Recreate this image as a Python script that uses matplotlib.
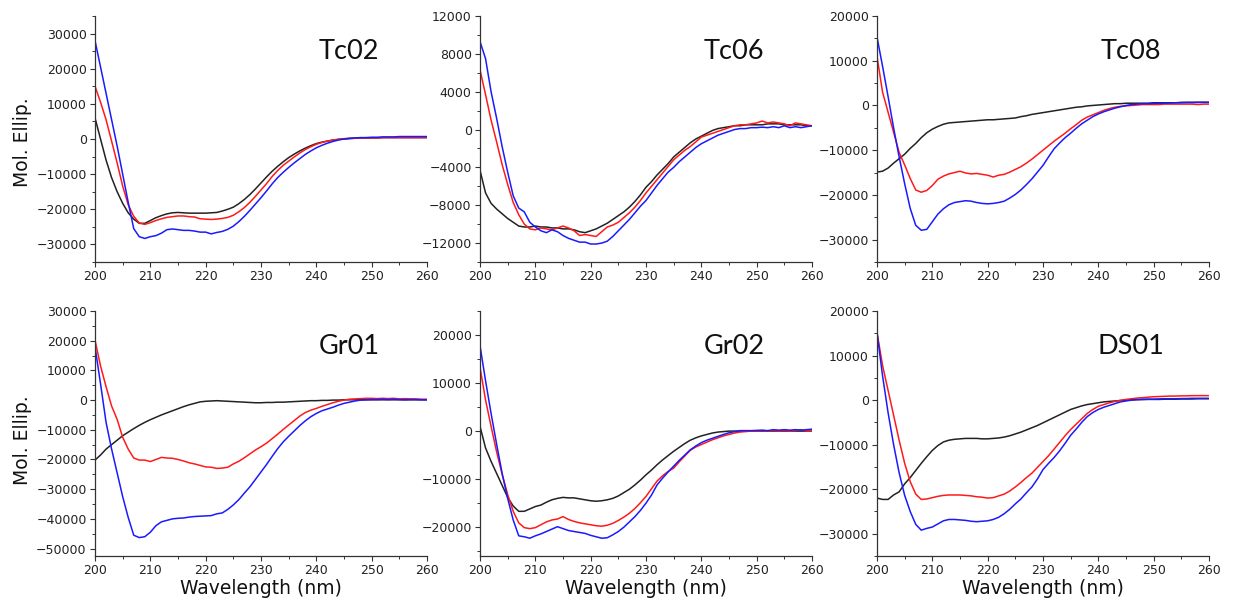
import numpy as np
import matplotlib
matplotlib.use("Agg")
import matplotlib.pyplot as plt
from matplotlib.ticker import MultipleLocator

# wavelength grid, 1 nm steps
wl = list(range(200, 261))

# ---- Tc02 ----
tc02_blue = [28000, 20500, 13000, 5500, -2000, -10000, -18000, -25500, -27800, -28300,
             -27800, -27500, -26800, -25800, -25600, -25800, -26000, -26000, -26200, -26500,
             -26500, -27000, -26600, -26300, -25700, -24800, -23500, -22000, -20300, -18500,
             -16700, -14800, -12800, -11000, -9500, -8100, -6800, -5600, -4400, -3400,
             -2500, -1800, -1200, -700, -300, 0, 200, 300, 400, 400,
             500, 500, 600, 600, 600, 700, 700, 700, 700, 700, 700]
tc02_red = [15000, 10500, 5500, -600, -6800, -13400, -18700, -22000, -23900, -24300,
            -23800, -23200, -22700, -22300, -22100, -21900, -21900, -22100, -22200, -22700,
            -22800, -22900, -22800, -22600, -22300, -21700, -20700, -19500, -18000, -16300,
            -14500, -12700, -10700, -9000, -7500, -6300, -5100, -4000, -3000, -2200,
            -1500, -1000, -600, -300, -100, 100, 200, 250, 300, 300,
            300, 300, 400, 400, 400, 400, 400, 400, 400, 400, 400]
tc02_black = [6000, 0, -6000, -11000, -15000, -18300, -21000, -22800, -24000, -24000,
              -23200, -22400, -21800, -21300, -21000, -20900, -21000, -21100, -21100, -21100,
              -21100, -21000, -20900, -20500, -20000, -19400, -18400, -17200, -15800, -14200,
              -12500, -10800, -9200, -7800, -6500, -5300, -4300, -3400, -2600, -1900,
              -1300, -900, -600, -300, -100, 0, 100, 200, 300, 300,
              300, 300, 400, 400, 400, 400, 400, 400, 400, 400, 400]

# ---- Tc06 ----
tc06_blue = [9300, 7500, 4000, 1200, -1800, -4500, -7000, -8300, -8700, -9800,
             -10300, -10700, -10900, -10600, -10800, -11200, -11500, -11700, -11900, -11900,
             -12100, -12100, -12000, -11800, -11300, -10700, -10100, -9500, -8800, -8100,
             -7500, -6700, -5900, -5200, -4500, -4000, -3400, -2900, -2400, -1900,
             -1500, -1200, -900, -600, -400, -200, 0, 100, 100, 200,
             200, 250, 200, 300, 200, 400, 200, 300, 200, 300, 400]
tc06_red = [6300, 3700, 1000, -1300, -3700, -5800, -7700, -9000, -10000, -10500,
            -10600, -10400, -10500, -10600, -10400, -10200, -10400, -10700, -11200, -11100,
            -11200, -11300, -10800, -10300, -10100, -9800, -9300, -8800, -8200, -7500,
            -6700, -6000, -5300, -4600, -3900, -3200, -2700, -2200, -1800, -1300,
            -800, -600, -400, -200, 0, 200, 400, 500, 500, 600,
            700, 900, 700, 800, 700, 600, 400, 700, 600, 500, 400]
tc06_black = [-4300, -6700, -7800, -8400, -8900, -9400, -9800, -10200, -10300, -10300,
              -10200, -10300, -10300, -10400, -10400, -10500, -10500, -10600, -10800, -10900,
              -10700, -10500, -10200, -9900, -9500, -9100, -8700, -8200, -7600, -6900,
              -6100, -5500, -4800, -4200, -3600, -2900, -2400, -1900, -1400, -1000,
              -700, -400, -100, 100, 200, 300, 400, 400, 500, 500,
              500, 500, 600, 600, 600, 500, 500, 500, 500, 400, 400]

# ---- Tc08 ----
tc08_blue = [15300, 8800, 2000, -5000, -11500, -17500, -23000, -26800, -27900, -27700,
             -26000, -24300, -23100, -22200, -21700, -21500, -21300, -21400, -21700, -21900,
             -22000, -21900, -21700, -21400, -20700, -19900, -18900, -17700, -16400, -14900,
             -13400, -11500, -9700, -8400, -7200, -6200, -5100, -4100, -3300, -2500,
             -1900, -1400, -1000, -600, -300, 0, 200, 300, 400, 400,
             450, 500, 500, 550, 600, 600, 650, 650, 700, 700, 700]
tc08_red = [11000, 3000, -1500, -6000, -10500, -13300, -16300, -18900, -19400, -19000,
            -17900, -16500, -15800, -15300, -15000, -14700, -15100, -15300, -15200, -15400,
            -15600, -16000, -15600, -15400, -14900, -14300, -13700, -12900, -12000, -11000,
            -10000, -9000, -8000, -7100, -6200, -5200, -4300, -3300, -2600, -2100,
            -1600, -1100, -700, -400, -200, -100, 0, 100, 200, 200,
            200, 200, 300, 300, 300, 300, 300, 300, 200, 300, 300]
tc08_black = [-14900, -14700, -14000, -12900, -11900, -10900, -9600, -8500, -7200, -6100,
              -5300, -4700, -4200, -3900, -3800, -3700, -3600, -3500, -3400, -3300,
              -3200, -3200, -3100, -3000, -2900, -2800, -2500, -2300, -2000, -1800,
              -1600, -1400, -1200, -1000, -800, -600, -400, -300, -100, 0,
              100, 200, 300, 400, 400, 500, 500, 500, 500, 500,
              600, 600, 600, 600, 600, 700, 700, 700, 700, 700, 700]

# ---- Gr01 ----
gr01_blue = [18000, 5500, -7500, -16500, -24500, -32500, -39500, -45500, -46300, -46000,
             -44500, -42300, -41000, -40500, -40000, -39800, -39700, -39400, -39200, -39100,
             -39000, -38900, -38300, -38000, -36800, -35300, -33500, -31300, -29200, -26700,
             -24200, -21700, -19000, -16400, -14100, -12200, -10400, -8600, -7000, -5600,
             -4500, -3600, -3000, -2400, -1700, -1100, -700, -300, 0, 100,
             200, 200, 300, 200, 300, 200, 100, 200, 200, 100, 100]
gr01_red = [20200, 11500, 4500, -2000, -6500, -12500, -16500, -19500, -20200, -20200,
            -20700, -20000, -19300, -19500, -19600, -20000, -20500, -21100, -21500, -22000,
            -22500, -22600, -23000, -22900, -22600, -21500, -20600, -19400, -18100, -16800,
            -15700, -14500, -13000, -11500, -9900, -8400, -6900, -5400, -4200, -3400,
            -2800, -2100, -1500, -900, -400, 0, 300, 400, 500, 600,
            600, 500, 600, 500, 600, 400, 500, 400, 400, 300, 300]
gr01_black = [-20200, -18500, -16500, -15000, -13500, -12000, -10800, -9600, -8500, -7500,
              -6600, -5800, -5000, -4300, -3600, -2900, -2200, -1600, -1100, -600,
              -400, -300, -200, -300, -400, -500, -600, -700, -800, -900,
              -900, -800, -800, -700, -700, -600, -500, -400, -300, -200,
              -200, -100, -100, 0, 0, 100, 100, 100, 100, 100,
              100, 100, 100, 100, 100, 100, 100, 100, 100, 100, 100]

# ---- Gr02 ----
gr02_blue = [17800, 10500, 3700, -2700, -8800, -14000, -18500, -21800, -22000, -22300,
             -21800, -21400, -20900, -20400, -19900, -20300, -20700, -20900, -21100, -21300,
             -21700, -22000, -22300, -22200, -21600, -20900, -20000, -18900, -17800, -16500,
             -15000, -13300, -11200, -9800, -8500, -7300, -6100, -5000, -3900, -3100,
             -2400, -1900, -1500, -1100, -700, -350, -100, 100, 100, 100,
             150, 200, 100, 300, 200, 300, 200, 300, 200, 300, 400]
gr02_red = [13300, 6500, 1000, -4300, -9000, -13200, -16700, -19100, -20100, -20300,
            -20100, -19500, -18900, -18500, -18300, -17800, -18400, -18800, -19100, -19300,
            -19500, -19700, -19800, -19600, -19200, -18600, -17900, -17100, -16100, -14900,
            -13600, -12000, -10400, -9300, -8400, -7700, -6400, -5200, -4000, -3300,
            -2800, -2300, -1800, -1400, -1000, -700, -400, -200, -100, 0,
            0, 100, 0, 100, 0, 100, 0, 100, 300, 0, 0]
gr02_black = [1000, -3500, -6300, -8800, -11300, -13800, -15600, -16700, -16700, -16200,
              -15700, -15400, -14800, -14300, -14000, -13800, -13900, -13900, -14100, -14300,
              -14500, -14600, -14500, -14300, -14000, -13500, -12800, -12100, -11200, -10200,
              -9100, -8100, -7000, -6000, -5100, -4200, -3400, -2600, -1900, -1400,
              -1000, -700, -400, -200, -100, 0, 0, 0, 0, 0,
              0, 0, 0, 0, 0, 0, 0, 0, 0, 0, 0]

# ---- DS01 ----
ds01_blue = [15200, 5500, -2800, -10000, -16300, -21400, -25000, -27900, -29200, -28800,
             -28500, -27800, -27100, -26800, -26800, -26900, -27000, -27200, -27300, -27200,
             -27100, -26800, -26300, -25500, -24500, -23300, -22200, -20800, -19500, -17700,
             -15600, -14200, -12900, -11400, -9700, -7900, -6500, -5000, -3700, -2800,
             -2100, -1600, -1200, -800, -400, -200, 0, 100, 200, 200,
             200, 250, 300, 300, 300, 350, 350, 400, 400, 400, 400]
ds01_red = [15200, 7800, 2200, -3400, -9000, -14200, -18300, -21100, -22300, -22200,
            -21900, -21600, -21400, -21300, -21300, -21300, -21400, -21500, -21700, -21800,
            -22000, -21900, -21500, -21100, -20400, -19500, -18500, -17400, -16400, -15100,
            -13800, -12500, -11000, -9500, -8000, -6600, -5400, -4200, -3000, -2100,
            -1400, -1000, -600, -300, -50, 150, 300, 450, 550, 650,
            750, 800, 850, 900, 900, 950, 950, 1000, 1000, 1000, 1000]
ds01_black = [-22000, -22300, -22300, -21300, -20600, -18800, -17400, -15800, -14200, -12700,
              -11300, -10200, -9400, -9000, -8800, -8700, -8600, -8600, -8600, -8700,
              -8700, -8600, -8500, -8300, -8000, -7600, -7200, -6700, -6200, -5700,
              -5100, -4500, -3900, -3300, -2700, -2100, -1700, -1300, -1000, -800,
              -600, -400, -300, -200, -100, 0, 50, 100, 100, 150,
              150, 150, 200, 200, 200, 250, 250, 250, 300, 300, 300]

names = ["Tc02", "Tc06", "Tc08", "Gr01", "Gr02", "DS01"]
curves = [
    (tc02_black, tc02_red, tc02_blue),
    (tc06_black, tc06_red, tc06_blue),
    (tc08_black, tc08_red, tc08_blue),
    (gr01_black, gr01_red, gr01_blue),
    (gr02_black, gr02_red, gr02_blue),
    (ds01_black, ds01_red, ds01_blue),
]
ylims = [(-35000, 35000), (-14000, 12000), (-35000, 20000),
         (-52500, 30000), (-26000, 25000), (-35000, 20000)]
ysteps = [10000, 4000, 10000, 10000, 10000, 10000]

W, H = 1234, 606
fig = plt.figure(figsize=(W / 100, H / 100), dpi=100)

lefts = [95, 480, 877]
rows = [(16, 262), (311, 556)]
axw = 332

axes = []
for i in range(6):
    r, c = divmod(i, 3)
    top, bot = rows[r]
    ax = fig.add_axes([lefts[c] / W, 1 - bot / H, axw / W, (bot - top) / H])
    axes.append(ax)

for i, ax in enumerate(axes):
    black, red, blue = curves[i]
    ax.plot(wl, black, color="#222222", lw=1.1)
    ax.plot(wl, red, color="#ff1a1a", lw=1.1)
    ax.plot(wl, blue, color="#1a1aff", lw=1.1)
    ax.set_xlim(200, 260)
    ax.set_ylim(*ylims[i])
    ax.xaxis.set_major_locator(MultipleLocator(10))
    ax.xaxis.set_minor_locator(MultipleLocator(5))
    ax.yaxis.set_major_locator(MultipleLocator(ysteps[i]))
    ax.yaxis.set_minor_locator(MultipleLocator(ysteps[i] / 2))
    for s in ["top", "right"]:
        ax.spines[s].set_visible(False)
    for s in ["left", "bottom"]:
        ax.spines[s].set_color("#333333")
        ax.spines[s].set_linewidth(0.9)
    ax.tick_params(which="major", length=3.5, width=0.8, color="#333333",
                   labelsize=9, labelcolor="#222222", pad=2.5)
    ax.tick_params(which="minor", length=2, width=0.7, color="#333333")
    ax.text(0.765, 0.855, names[i], transform=ax.transAxes, ha="center",
            va="center", fontsize=19.5, family="Lato", color="#111111")
    if i >= 3:
        ax.set_xlabel("Wavelength (nm)", fontsize=13.5, color="#111111", labelpad=1)

fig.text(23 / W, 1 - 142 / H, "Mol. Ellip.", rotation=90, ha="center",
         va="center", fontsize=13.5, color="#111111")
fig.text(23 / W, 1 - 440 / H, "Mol. Ellip.", rotation=90, ha="center",
         va="center", fontsize=13.5, color="#111111")

fig.savefig("out.png", dpi=100)
